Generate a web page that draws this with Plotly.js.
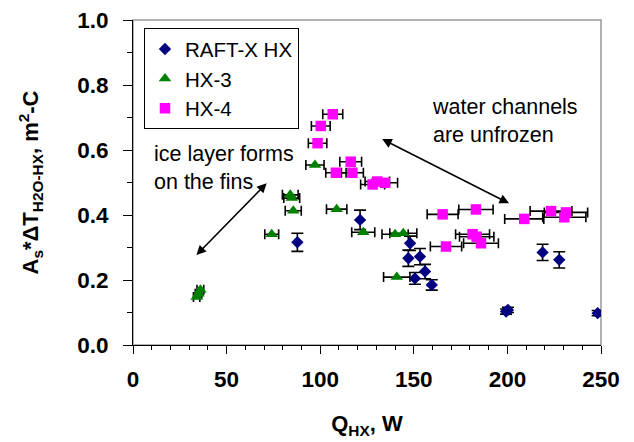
<!DOCTYPE html>
<html>
<head>
<meta charset="utf-8">
<script src="https://cdn.plot.ly/plotly-3.0.1.min.js"></script>
<style>html,body{margin:0;padding:0;background:#fff;}#chart{width:634px;height:442px;}</style>
</head>
<body>
<div id="chart"></div>
<script>
// RAFT-X HX (blue diamonds, vertical error bars)
const raftQ   = [87.8, 121.3, 148.0, 147.1, 153.3, 156.0, 150.6, 159.6, 218.8, 227.7, 199.3, 200.3, 248.2];
const raftY   = [0.316, 0.385, 0.313, 0.267, 0.272, 0.226, 0.205, 0.185, 0.285, 0.262, 0.103, 0.108, 0.098];
const raftErr = [0.028, 0.030, 0.022, 0.025, 0.025, 0.022, 0.018, 0.016, 0.025, 0.025, 0.008, 0.008, 0.008];
// HX-3 (green triangles, horizontal error bars)
const hx3Q = [34.0, 35.0, 36.0, 74.1, 84.0, 84.8, 85.6, 97.2, 108.8, 123.0, 140.0, 144.4, 140.9];
const hx3Y = [0.148, 0.158, 0.170, 0.341, 0.462, 0.452, 0.413, 0.554, 0.418, 0.347, 0.341, 0.344, 0.209];
// HX-4 (magenta squares, horizontal error bars)
const hx4Q = [106.7, 100.3, 98.6, 116.3, 108.4, 117.2, 128.0, 130.5, 134.6, 165.4, 183.2, 209.0, 223.3, 231.3, 230.4, 181.4, 183.6, 185.9, 167.2];
const hx4Y = [0.710, 0.674, 0.621, 0.564, 0.530, 0.530, 0.494, 0.503, 0.499, 0.402, 0.417, 0.388, 0.412, 0.408, 0.393, 0.341, 0.333, 0.313, 0.303];
const seriesNames = ["RAFT-X HX", "HX-3", "HX-4"];
const xTicks = [0, 50, 100, 150, 200, 250];
const yTicks = [0.0, 0.2, 0.4, 0.6, 0.8, 1.0];

const FONT = "Liberation Sans, Arial, sans-serif";
const errX = {type: 'percent', value: 5, color: '#000', thickness: 1.6, width: 5};

const traces = [
  {x: raftQ, y: raftY, name: seriesNames[0], mode: 'markers', type: 'scatter',
   marker: {symbol: 'diamond', size: 9.5, color: '#000080'},
   error_y: {type: 'data', array: raftErr, color: '#000', thickness: 1.6, width: 6}},
  {x: hx3Q, y: hx3Y, name: seriesNames[1], mode: 'markers', type: 'scatter',
   marker: {symbol: 'triangle-up', size: 11, color: '#008000'},
   error_x: errX},
  {x: hx4Q, y: hx4Y, name: seriesNames[2], mode: 'markers', type: 'scatter',
   marker: {symbol: 'square', size: 10.5, color: '#FF00FF'},
   error_x: errX}
];

const layout = {
  width: 634, height: 442,
  margin: {l: 133, r: 33, t: 20, b: 97},
  paper_bgcolor: '#fff', plot_bgcolor: '#fff',
  font: {family: FONT, color: '#000'},
  showlegend: true,
  legend: {x: 0.0235, y: 0.975, xanchor: 'left', yanchor: 'top',
           bgcolor: '#fff', bordercolor: '#000', borderwidth: 1,
           font: {family: FONT, size: 20.5, color: '#000'}, tracegroupgap: 0},
  xaxis: {range: [0, 250], tickvals: xTicks, ticktext: xTicks.map(String),
          showgrid: false, zeroline: false, showline: true, linecolor: '#000', linewidth: 1,
          ticks: 'outside', ticklen: 8, tickcolor: '#000', tickwidth: 1,
          minor: {dtick: 10, ticks: 'outside', ticklen: 4, tickcolor: '#000', showgrid: false},
          tickfont: {family: FONT, size: 22.5, color: '#000', weight: 'bold'},
          ticklabelstandoff: 6,
          title: {text: 'Q<sub>HX</sub>, W', font: {family: FONT, size: 22, color: '#000', weight: 'bold'}, standoff: 24}},
  yaxis: {range: [0, 1], tickvals: yTicks, ticktext: yTicks.map(v => v.toFixed(1)),
          showgrid: false, zeroline: false, showline: true, linecolor: '#000', linewidth: 1,
          ticks: 'outside', ticklen: 9, tickcolor: '#000', tickwidth: 1,
          minor: {dtick: 0.1, ticks: 'outside', ticklen: 5, tickcolor: '#000', showgrid: false},
          tickfont: {family: FONT, size: 22.5, color: '#000', weight: 'bold'},
          ticklabelstandoff: 10,
          title: {text: 'A<sub>s</sub>*ΔT<sub>H2O-HX</sub>, m<sup>2</sup>-C', font: {family: FONT, size: 22, color: '#000', weight: 'bold'}, standoff: 32}},
  shapes: [
    {type: 'rect', xref: 'paper', yref: 'paper', x0: 0, x1: 1, y0: 0, y1: 1,
     line: {color: '#999', width: 1.5}, layer: 'below'}
  ],
  annotations: [
    {text: 'ice layer forms<br>on the fins', xref: 'x', yref: 'y', x: 10, y: 0.545,
     xanchor: 'left', yanchor: 'middle', align: 'left', showarrow: false,
     font: {family: FONT, size: 21.5, color: '#000'}},
    {text: 'water channels<br>are unfrozen', xref: 'x', yref: 'y', x: 158.5, y: 0.69,
     xanchor: 'left', yanchor: 'middle', align: 'left', showarrow: false,
     font: {family: FONT, size: 21.5, color: '#000'}},
    {text: '', xref: 'x', yref: 'y', x: 71.4, y: 0.498, axref: 'x', ayref: 'y', ax: 33.1, ay: 0.272,
     showarrow: true, arrowhead: 2, startarrowhead: 2, arrowside: 'end+start', arrowsize: 1.2, arrowwidth: 1.6, arrowcolor: '#000'},
    {text: '', xref: 'x', yref: 'y', x: 200.9, y: 0.436, axref: 'x', ayref: 'y', ax: 132.3, ay: 0.636,
     showarrow: true, arrowhead: 2, startarrowhead: 2, arrowside: 'end+start', arrowsize: 1.2, arrowwidth: 1.6, arrowcolor: '#000'}
  ]
};

Plotly.newPlot('chart', traces, layout, {displayModeBar: false, staticPlot: true});
</script>
</body>
</html>
